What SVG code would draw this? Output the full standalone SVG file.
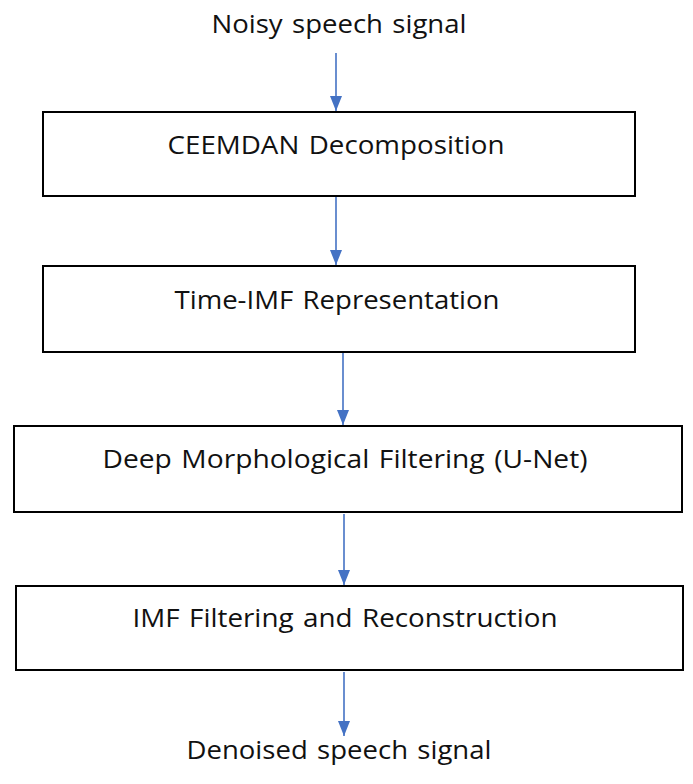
<svg xmlns="http://www.w3.org/2000/svg" width="693" height="784" viewBox="0 0 693 784">
<style>
.box{fill:#fff;stroke:#000;stroke-width:2}
.t{font-family:"Open Sans","Noto Sans",sans-serif;font-size:25px;fill:#111;text-anchor:middle;word-spacing:2px}
.c{stroke:#4472C4;stroke-width:1.6;fill:none;marker-end:url(#ah)}
</style>
<defs>
<marker id="ah" viewBox="0 0 15 12" refX="15" refY="6" markerWidth="15" markerHeight="12" markerUnits="userSpaceOnUse" orient="auto">
<path d="M0,0 L15,6 L0,12 Z" fill="#4472C4"/>
</marker>
</defs>
<rect width="693" height="784" fill="#fff"/>
<g id="connectors">
<line class="c" x1="336" y1="53" x2="336" y2="111"/>
<line class="c" x1="336" y1="197" x2="336" y2="265"/>
<line class="c" x1="343" y1="353" x2="343" y2="425"/>
<line class="c" x1="344" y1="514" x2="344" y2="585"/>
<line class="c" x1="344" y1="672" x2="344" y2="736"/>
</g>
<g id="input"><text class="t" x="339" y="33" textLength="255" lengthAdjust="spacingAndGlyphs">Noisy speech signal</text></g>
<g id="ceemdan"><rect class="box" x="43" y="112" width="592" height="84"/><text class="t" x="336" y="154" textLength="337" lengthAdjust="spacingAndGlyphs">CEEMDAN Decomposition</text></g>
<g id="timeimf"><rect class="box" x="43" y="266" width="592" height="86"/><text class="t" x="337" y="309" textLength="325" lengthAdjust="spacingAndGlyphs">Time-IMF Representation</text></g>
<g id="unet"><rect class="box" x="14" y="426" width="668" height="86"/><text class="t" x="345" y="468" textLength="485" lengthAdjust="spacingAndGlyphs">Deep Morphological Filtering (U-Net)</text></g>
<g id="reconstruct"><rect class="box" x="16" y="586" width="667" height="84"/><text class="t" x="345" y="627" textLength="425" lengthAdjust="spacingAndGlyphs">IMF Filtering and Reconstruction</text></g>
<g id="output"><text class="t" x="339" y="759" textLength="305" lengthAdjust="spacingAndGlyphs">Denoised speech signal</text></g>
</svg>
